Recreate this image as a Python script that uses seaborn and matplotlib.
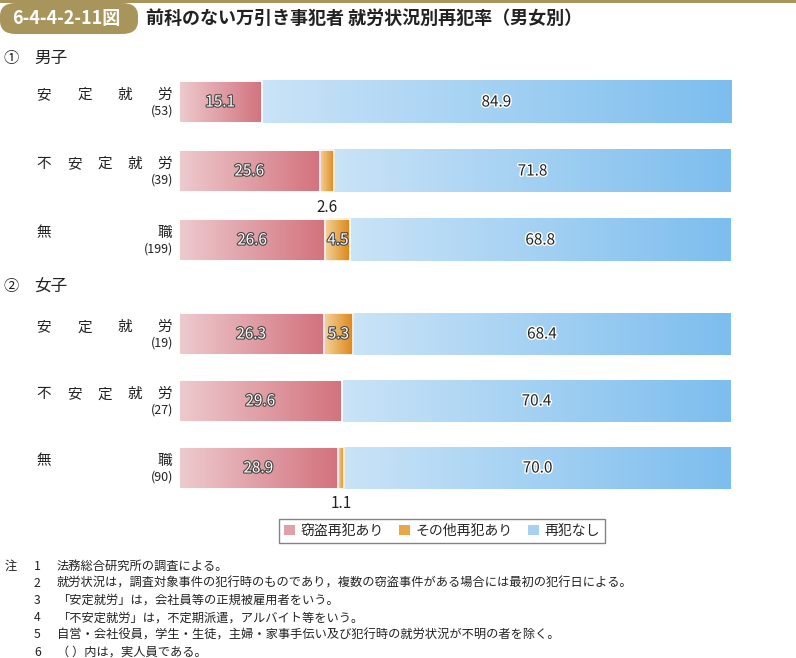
import numpy as np
import pandas as pd
import seaborn as sns
import matplotlib.pyplot as plt
import matplotlib.patheffects as pe
from matplotlib.colors import LinearSegmentedColormap
from matplotlib.patches import Patch, FancyBboxPatch, Rectangle
from matplotlib.transforms import blended_transform_factory

# data
categories = ['安定就労', '不安定就労', '無職']
male_n = [53, 39, 199]
female_n = [19, 27, 90]
male_theft = [15.1, 25.6, 26.6]
male_other = [0.0, 2.6, 4.5]
male_none = [84.9, 71.8, 68.8]
female_theft = [26.3, 29.6, 28.9]
female_other = [5.3, 0.0, 1.1]
female_none = [68.4, 70.4, 70.0]
series_names = ['窃盗再犯あり', 'その他再犯あり', '再犯なし']

notes = [
    ('注', '1', '法務総合研究所の調査による。'),
    ('', '2', '就労状況は，調査対象事件の犯行時のものであり，複数の窃盗事件がある場合には最初の犯行日による。'),
    ('', '3', '「安定就労」は，会社員等の正規被雇用者をいう。'),
    ('', '4', '「不安定就労」は，不定期派遣，アルバイト等をいう。'),
    ('', '5', '自営・会社役員，学生・生徒，主婦・家事手伝い及び犯行時の就労状況が不明の者を除く。'),
    ('', '6', '（ ）内は，実人員である。'),
]

grad_colors = [('#edcace', '#d3727d'), ('#f4d29a', '#dc8617'), ('#c9e3f7', '#7dbeee')]
legend_colors = ['#e0a0a8', '#e9a847', '#a6d1f3']

sns.set_theme(style='white')
plt.rcParams['font.family'] = ['Noto Sans CJK JP', 'DejaVu Sans']

W, H = 796, 658
fig = plt.figure(figsize=(W / 100, H / 100), dpi=100)


def fx(px):
    return px / W


def fy(py):
    return 1 - py / H


def draw_group(ax, theft, other, none, counts):
    df = pd.DataFrame({'cat': categories, 'theft': theft, 'other': other, 'none': none})
    c1 = np.array(theft)
    c2 = c1 + np.array(other)
    c3 = c2 + np.array(none)
    df['c1'], df['c2'], df['c3'] = c1, c2, c3
    layers = [('c3', c2, c3, 2), ('c2', c1, c2, 1), ('c1', np.zeros(3), c1, 0)]
    for col, lo, hi, k in layers:
        n_before = len(ax.patches)
        sns.barplot(data=df, x=col, y='cat', orient='h', width=0.62,
                    color='white', ax=ax, zorder=3)
        cmap = LinearSegmentedColormap.from_list('g%d' % k, grad_colors[k])
        for i, p in enumerate(ax.patches[n_before:]):
            p.set_facecolor('none')
            if k == 2:
                p.set_edgecolor('none')
            else:
                p.set_edgecolor('white')
                p.set_linewidth(1.2)
            if hi[i] - lo[i] <= 0:
                continue
            y0, y1 = p.get_y(), p.get_y() + p.get_height()
            ax.imshow(np.linspace(0, 1, 64).reshape(1, -1), cmap=cmap, aspect='auto',
                      extent=(lo[i], hi[i], y1, y0), zorder=2, interpolation='bilinear')
    ax.set_xlim(0, 100)
    ax.set_ylim(2.5, -0.5)
    ax.axis('off')

    # value labels
    vals = [theft, other, none]
    los = [np.zeros(3), c1, c2]
    for k in range(3):
        for i in range(3):
            v = vals[k][i]
            if v <= 0:
                continue
            xc = los[k][i] + v / 2
            if v < 3:
                ax.text(xc, i + 0.53, f'{v:.1f}', ha='center', va='center',
                        fontsize=11, color='#222222')
            elif k == 2:
                ax.text(xc, i, f'{v:.1f}', ha='center', va='center', fontsize=11,
                        color='#222222',
                        path_effects=[pe.withStroke(linewidth=2, foreground='white')])
            else:
                ax.text(xc, i, f'{v:.1f}', ha='center', va='center', fontsize=11,
                        color='white',
                        path_effects=[pe.withStroke(linewidth=1.6, foreground='#444444')])

    # category labels, characters spread across the label column
    tr = blended_transform_factory(fig.transFigure, ax.transData)
    for i, cat in enumerate(categories):
        xs = np.linspace(fx(44), fx(165), len(cat))
        for ch, x in zip(cat, xs):
            ax.text(x, i - 0.10, ch, transform=tr, ha='center', va='center',
                    fontsize=10.5, color='#222222')
        ax.text(fx(173), i + 0.13, f'({counts[i]})', transform=tr, ha='right',
                va='center', fontsize=9, color='#222222')


ax1 = fig.add_axes([fx(178.5), fy(274.5), fx(552.5), 207 / H])
draw_group(ax1, male_theft, male_other, male_none, male_n)
ax2 = fig.add_axes([fx(178.5), fy(501.5), fx(552.5), 201 / H])
draw_group(ax2, female_theft, female_other, female_none, female_n)

# title bar
gold = '#a8955c'
fig.add_artist(Rectangle((0, fy(3)), 1, 3 / H, transform=fig.transFigure,
                         color=gold, lw=0))
fig.add_artist(FancyBboxPatch((fx(0), fy(34)), fx(138), 31 / H,
                              boxstyle='round,pad=0,rounding_size=0.02',
                              transform=fig.transFigure, color=gold, lw=0))
fig.text(fx(12), fy(18.5), '6-4-4-2-11図', color='white', fontsize=13,
         fontweight='bold', va='center', ha='left')
fig.text(fx(146), fy(18.5), '前科のない万引き事犯者 就労状況別再犯率（男女別）',
         fontsize=13, fontweight='bold', va='center', ha='left', color='#222222')

fig.text(fx(3), fy(58), '①', fontsize=11, va='center', color='#222222')
fig.text(fx(34), fy(58), '男子', fontsize=12, va='center', color='#222222')
fig.text(fx(3), fy(287), '②', fontsize=11, va='center', color='#222222')
fig.text(fx(34), fy(287), '女子', fontsize=12, va='center', color='#222222')

# legend
handles = [Patch(facecolor=c, edgecolor='none') for c in legend_colors]
leg = fig.legend(handles, series_names, loc='center', bbox_to_anchor=(fx(442), fy(531)),
                 ncol=3, frameon=True, fancybox=False, fontsize=10,
                 handlelength=0.8, handleheight=0.8, handletextpad=0.4,
                 columnspacing=1.1, borderpad=0.35)
leg.get_frame().set_edgecolor('#666666')
leg.get_frame().set_linewidth(1.0)

# notes
for j, (a, b, t) in enumerate(notes):
    y = fy(566 + j * 17.2)
    if a:
        fig.text(fx(5), y, a, fontsize=8.8, va='center', color='#222222')
    fig.text(fx(34), y, b, fontsize=8.8, va='center', color='#222222')
    fig.text(fx(57), y, t, fontsize=8.8, va='center', color='#222222')

fig.savefig('out.png', dpi=100)
